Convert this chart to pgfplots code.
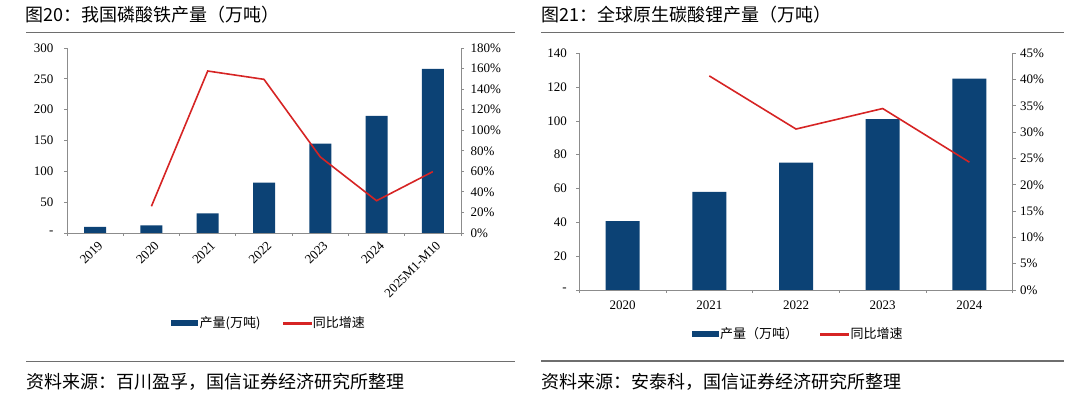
\documentclass[border=0pt]{standalone}
\usepackage{pgfplots}
\pgfplotsset{compat=1.18}
\usepackage{fontspec}
\setmainfont{Liberation Serif}
\newfontfamily\cjk{Noto Sans CJK SC}
\definecolor{navy}{RGB}{12,66,117}
\definecolor{redl}{RGB}{214,36,36}
\definecolor{axgray}{RGB}{140,140,140}
\definecolor{rulegray}{RGB}{110,110,110}
\pgfplotsset{
  mybase/.style={
    scale only axis,
    axis line style={axgray, line width=0.8pt},
    tick style={axgray, line width=0.8pt},
    tick align=outside,
    major tick length=3pt,
    ticklabel style={font=\fontsize{13}{15}\selectfont, text=black},
    /pgf/number format/assume math mode=true,
    clip=false,
  },
  barleg/.style={legend image code/.code={\fill[navy] (0pt,-2.5pt) rectangle (26pt,2.5pt);}},
  lineleg/.style={legend image code/.code={\fill[redl] (0pt,-1pt) rectangle (28pt,1pt);}},
}
\begin{document}
\begin{tikzpicture}[x=1pt,y=1pt]
\useasboundingbox (0,0) rectangle (1075,395);
% ---------- Titles, rules, sources ----------
\node[anchor=west, inner sep=0pt, font=\cjk\fontsize{18}{20}\selectfont] at (25,380) {图20：我国磷酸铁产量（万吨）};
\node[anchor=west, inner sep=0pt, font=\cjk\fontsize{18}{20}\selectfont] at (541,380) {图21：全球原生碳酸锂产量（万吨）};
\draw[rulegray, line width=1.5pt] (26,362.3) -- (515,362.3);
\draw[rulegray, line width=1.5pt] (541,362.3) -- (1064,362.3);
\draw[rulegray, line width=1.5pt] (26,33.5) -- (515,33.5);
\draw[rulegray, line width=1.5pt] (541,34) -- (1064,34);
\node[anchor=west, inner sep=0pt, font=\cjk\fontsize{18}{20}\selectfont] at (26,13) {资料来源：百川盈孚，国信证券经济研究所整理};
\node[anchor=west, inner sep=0pt, font=\cjk\fontsize{18}{20}\selectfont] at (541,13) {资料来源：安泰科，国信证券经济研究所整理};

% ---------- Left chart ----------
\begin{axis}[mybase,
  at={(67pt,162pt)}, anchor=south west,
  width=394pt, height=185pt,
  xmin=-0.5, xmax=6.5, ymin=0, ymax=300,
  axis x line*=bottom, axis y line*=left,
  ytick={0,50,...,300}, yticklabels={-,50,100,150,200,250,300},
  yticklabel style={xshift=-7pt},
  xtick={-0.5,0.5,...,6.5}, x tick label as interval,
  xticklabels={2019,2020,2021,2022,2023,2024,2025M1-M10},
  xticklabel style={rotate=45, anchor=east, xshift=2pt, yshift=-9pt},
]
\addplot[ybar, bar width=22pt, fill=navy, draw=none] coordinates {(0,10) (1,12.5) (2,32) (3,81.5) (4,145) (5,190) (6,266)};
\end{axis}
\begin{axis}[mybase,
  at={(67pt,162pt)}, anchor=south west,
  width=394pt, height=185pt,
  xmin=-0.5, xmax=6.5, ymin=0, ymax=180,
  axis x line=none, axis y line*=right,
  ytick={0,20,...,180},
  yticklabel={\pgfmathprintnumber{\tick}\%},
  yticklabel style={xshift=3pt},
  legend style={at={(0.513,-0.486)}, anchor=center, draw=none, fill=none,
    font=\cjk\fontsize{13}{15}\selectfont,
    /tikz/every even column/.append style={column sep=20pt}},
  legend columns=2,
]
\addlegendimage{barleg}
\addlegendentry{产量(万吨)}
\addlegendimage{lineleg}
\addlegendentry{同比增速}
\addplot[redl, line width=1.6pt, mark=none, forget plot] coordinates {(1,26) (2,157.6) (3,149.5) (4,74) (5,31.4) (6,59.7)};
\end{axis}

% ---------- Right chart ----------
\begin{axis}[mybase,
  at={(579.3pt,105pt)}, anchor=south west,
  width=433.4pt, height=236.7pt,
  xmin=-0.5, xmax=4.5, ymin=0, ymax=140,
  axis x line*=bottom, axis y line*=left,
  ytick={0,20,...,140}, yticklabels={-,20,40,60,80,100,120,140},
  yticklabel style={xshift=-6pt},
  xtick={-0.5,0.5,...,4.5}, x tick label as interval,
  xticklabels={2020,2021,2022,2023,2024},
  xticklabel style={yshift=-4pt},
]
\addplot[ybar, bar width=34pt, fill=navy, draw=none] coordinates {(0,40.8) (1,58) (2,75.3) (3,101) (4,125)};
\end{axis}
\begin{axis}[mybase,
  at={(579.3pt,105pt)}, anchor=south west,
  width=433.4pt, height=236.7pt,
  xmin=-0.5, xmax=4.5, ymin=0, ymax=45,
  axis x line=none, axis y line*=right,
  ytick={0,5,...,45},
  yticklabel={\pgfmathprintnumber{\tick}\%},
  yticklabel style={xshift=1pt},
  legend style={at={(0.505,-0.186)}, anchor=center, draw=none, fill=none,
    font=\cjk\fontsize{13}{15}\selectfont,
    /tikz/every even column/.append style={column sep=20pt}},
  legend columns=2,
]
\addlegendimage{barleg}
\addlegendentry{产量（万吨）}
\addlegendimage{lineleg}
\addlegendentry{同比增速}
\addplot[redl, line width=1.6pt, mark=none, forget plot] coordinates {(1,40.7) (2,30.6) (3,34.5) (4,24.3)};
\end{axis}
\end{tikzpicture}
\end{document}
